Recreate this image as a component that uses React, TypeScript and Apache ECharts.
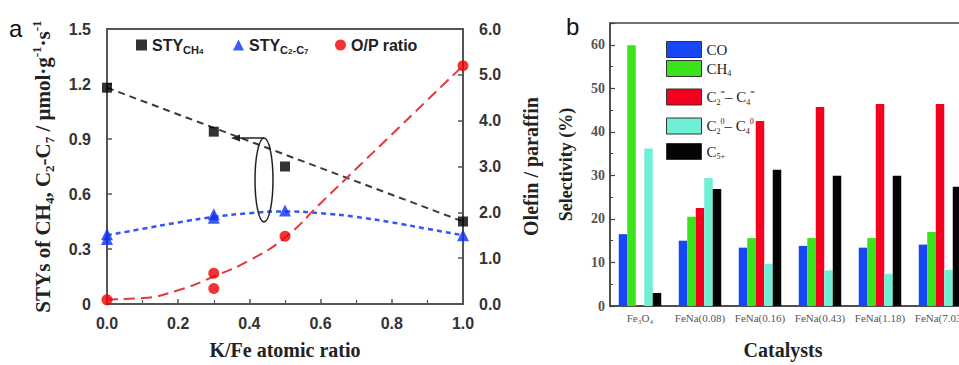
import React, { useEffect, useRef } from "react";
import * as echarts from "echarts";

// ---------- Panel a data ----------
const kFeTicks = [0, 0.2, 0.4, 0.6, 0.8, 1.0];
const ch4Pts: [number, number][] = [[0, 1.18], [0.3, 0.94], [0.5, 0.75], [1.0, 0.45]];
const c2c7Pts: [number, number][] = [[0, 0.38], [0, 0.355], [0.3, 0.47], [0.3, 0.49], [0.5, 0.51], [1.0, 0.375]];
const opPts: [number, number][] = [[0, 0.09], [0.3, 0.67], [0.3, 0.34], [0.5, 1.48], [1.0, 5.2]];
// dashed fit curves
const ch4FitX = [0, 1.0];
const ch4Fit = [1.18, 0.45];
const fitX = [0, 0.1, 0.2, 0.3, 0.4, 0.5, 0.6, 0.7, 0.8, 0.9, 1.0];
const c2c7Fit = [0.375, 0.41, 0.445, 0.475, 0.495, 0.505, 0.495, 0.475, 0.445, 0.41, 0.375];
const opFit = [0.1, 0.13, 0.3, 0.6, 0.95, 1.45, 2.2, 2.95, 3.7, 4.45, 5.2];

// ---------- Panel b data ----------
const catalysts = ["Fe₃O₄", "FeNa(0.08)", "FeNa(0.16)", "FeNa(0.43)", "FeNa(1.18)", "FeNa(7.03)"];
const coSel = [16.5, 15.0, 13.4, 13.8, 13.4, 14.1];
const ch4Sel = [59.9, 20.5, 15.6, 15.6, 15.6, 17.0];
const olefinSel = [0, 22.5, 42.5, 45.7, 46.4, 46.4];
const paraffinSel = [36.2, 29.4, 9.7, 8.2, 7.4, 8.3];
const c5Sel = [3.0, 26.9, 31.3, 29.9, 29.9, 27.4];

const SANS = "Liberation Sans, Arial, sans-serif";
const SERIF = "Liberation Serif, Times New Roman, serif";

const zip = (xs: number[], ys: number[]) => xs.map((x, i) => [x, ys[i]]);

export default function App() {
  const ref = useRef<HTMLDivElement>(null);
  useEffect(() => {
    if (!ref.current) return;
    const chart = echarts.init(ref.current, undefined, { renderer: "svg" });

    const richA = {
      t: { fontFamily: SANS, fontWeight: "bold", fontSize: 16, color: "#222", lineHeight: 20, verticalAlign: "middle" },
      s: { fontFamily: SANS, fontWeight: "bold", fontSize: 11, color: "#222", lineHeight: 20, verticalAlign: "bottom" },
      ss: { fontFamily: SANS, fontWeight: "bold", fontSize: 8, color: "#222", lineHeight: 16, verticalAlign: "bottom" },
    };
    const richB = {
      t: { fontFamily: SERIF, fontSize: 15, color: "#222", lineHeight: 18, verticalAlign: "middle" },
      sub: { fontFamily: SERIF, fontSize: 8, color: "#222", lineHeight: 18, verticalAlign: "bottom" },
      sup: { fontFamily: SERIF, fontSize: 8, color: "#222", lineHeight: 18, verticalAlign: "top" },
    };
    const legA = (name: string, icon: string, left: number, label: string) => ({
      data: [{ name, icon }],
      left,
      top: 37,
      itemWidth: 11,
      itemHeight: 11,
      padding: 0,
      formatter: () => label,
      textStyle: { rich: richA },
    });
    const legB = (name: string, top: number, label: string) => ({
      data: [{ name, icon: "rect" }],
      left: 666,
      top,
      orient: "vertical",
      itemWidth: 35,
      itemHeight: 16,
      padding: 0,
      itemStyle: { borderColor: "#333", borderWidth: 1 },
      formatter: () => label,
      textStyle: { rich: richB },
    });

    const axisNameA = { fontFamily: SERIF, fontWeight: "bold", fontSize: 20, color: "#222" };
    const tickLabA = { fontFamily: SANS, fontWeight: "bold", fontSize: 16, color: "#333" };

    chart.setOption({
      animation: false,
      backgroundColor: "#ffffff",
      grid: [
        { left: 107, top: 29, width: 356, height: 279, show: true, borderColor: "#555", borderWidth: 2 },
        { left: 610, top: 23, width: 360, height: 290, show: true, borderColor: "#444", borderWidth: 1.5 },
      ],
      legend: [
        legA("STY_CH4", "rect", 136, "{t|STY}{s|CH}{ss|4}"),
        legA("STY_C2C7", "triangle", 233, "{t|STY}{s|C}{ss|2}{s|-C}{ss|7}"),
        legA("O/P ratio", "circle", 335, "{t|O/P ratio}"),
        legB("CO", 41, "{t|CO}"),
        legB("CH4", 60, "{t|CH}{sub|4}"),
        legB("C2=-C4=", 88, "{t|C}{sub|2}{sup|=}{t|– C}{sub|4}{sup|=}"),
        legB("C2o-C4o", 117, "{t|C}{sub|2}{sup|0}{t|– C}{sub|4}{sup|0}"),
        legB("C5+", 143, "{t|C}{sub|5+}"),
      ],
      xAxis: [
        {
          type: "value",
          gridIndex: 0,
          min: 0,
          max: 1,
          interval: 0.2,
          axisLine: { lineStyle: { color: "#555", width: 2 } },
          axisTick: { inside: true, length: 5, lineStyle: { color: "#555", width: 1.5 } },
          minorTick: { show: true, splitNumber: 2, length: 4, lineStyle: { color: "#555", width: 1.2 } },
          splitLine: { show: false },
          minorSplitLine: { show: false },
          axisLabel: { ...tickLabA, margin: 11, formatter: (v: number) => v.toFixed(1) },
          name: "K/Fe atomic ratio",
          nameLocation: "middle",
          nameGap: 36,
          nameTextStyle: axisNameA,
        },
        {
          type: "category",
          gridIndex: 1,
          data: catalysts,
          axisTick: { show: false },
          axisLine: { lineStyle: { color: "#444", width: 1.5 } },
          axisLabel: { interval: 0, fontFamily: SERIF, fontSize: 11, color: "#555", margin: 6 },
          name: "Catalysts",
          nameLocation: "middle",
          nameGap: 34,
          nameTextStyle: { ...axisNameA, padding: [0, 14, 0, 0] },
        },
      ],
      yAxis: [
        {
          type: "value",
          gridIndex: 0,
          min: 0,
          max: 1.5,
          interval: 0.3,
          axisLine: { show: true, lineStyle: { color: "#555", width: 2 } },
          axisTick: { show: true, inside: true, length: 5, lineStyle: { color: "#555", width: 1.5 } },
          splitLine: { show: false },
          axisLabel: { ...tickLabA, margin: 16, formatter: (v: number) => (v === 0 ? "0" : v.toFixed(1)) },
          name: "STYs of CH{sub|4}, C{sub|2}-C{sub|7} / μmol·g{sup|-1}·s{sup|-1}",
          nameLocation: "middle",
          nameRotate: 90,
          nameGap: 51,
          nameTextStyle: {
            ...axisNameA,
            fontSize: 21,
            rich: {
              sub: { fontFamily: SERIF, fontWeight: "bold", fontSize: 13, color: "#222", verticalAlign: "bottom", lineHeight: 26 },
              sup: { fontFamily: SERIF, fontWeight: "bold", fontSize: 13, color: "#222", verticalAlign: "top", lineHeight: 26 },
            },
          },
        },
        {
          type: "value",
          gridIndex: 0,
          position: "right",
          min: 0,
          max: 6,
          interval: 1,
          axisLine: { show: true, lineStyle: { color: "#555", width: 2 } },
          axisTick: { show: true, inside: true, length: 5, lineStyle: { color: "#555", width: 1.5 } },
          splitLine: { show: false },
          axisLabel: { ...tickLabA, margin: 16, formatter: (v: number) => v.toFixed(1) },
          name: "Olefin / paraffin",
          nameLocation: "middle",
          nameRotate: 90,
          nameGap: 58,
          nameTextStyle: axisNameA,
        },
        {
          type: "value",
          gridIndex: 1,
          min: 0,
          max: 65,
          interval: 10,
          axisLine: { show: true, lineStyle: { color: "#444", width: 1.5 } },
          axisTick: { show: true, inside: true, length: 5, lineStyle: { color: "#444", width: 1.2 } },
          minorTick: { show: true, splitNumber: 2, length: 3, lineStyle: { color: "#444", width: 1 } },
          splitLine: { show: false },
          minorSplitLine: { show: false },
          axisLabel: { showMaxLabel: false, fontFamily: SERIF, fontWeight: "bold", fontSize: 14, color: "#555", margin: 5 },
          name: "Selectivity (%)",
          nameLocation: "middle",
          nameRotate: 90,
          nameGap: 35,
          nameTextStyle: { ...axisNameA, fontSize: 18 },
        },
      ],
      series: [
        {
          type: "line",
          xAxisIndex: 0,
          yAxisIndex: 0,
          data: zip(ch4FitX, ch4Fit),
          showSymbol: false,
          symbol: "none",
          lineStyle: { color: "#3a3a3a", width: 2, type: [7, 5] },
          silent: true,
          z: 2,
        },
        {
          type: "line",
          xAxisIndex: 0,
          yAxisIndex: 0,
          data: zip(fitX, c2c7Fit),
          smooth: true,
          symbol: "none",
          lineStyle: { color: "#3355ff", width: 2.5, type: [5, 4] },
          silent: true,
          z: 2,
        },
        {
          type: "line",
          xAxisIndex: 0,
          yAxisIndex: 1,
          data: zip(fitX, opFit),
          smooth: true,
          symbol: "none",
          lineStyle: { color: "#e23a3a", width: 2, type: [11, 6] },
          silent: true,
          z: 2,
        },
        {
          name: "STY_CH4",
          type: "scatter",
          xAxisIndex: 0,
          yAxisIndex: 0,
          data: ch4Pts,
          symbol: "rect",
          symbolSize: 10,
          itemStyle: { color: "#000" },
          z: 5,
        },
        {
          name: "STY_C2C7",
          type: "scatter",
          xAxisIndex: 0,
          yAxisIndex: 0,
          data: c2c7Pts,
          symbol: "triangle",
          symbolSize: 12,
          itemStyle: { color: "#1030f0" },
          z: 5,
        },
        {
          name: "O/P ratio",
          type: "scatter",
          xAxisIndex: 0,
          yAxisIndex: 1,
          data: opPts,
          symbol: "circle",
          symbolSize: 11,
          itemStyle: { color: "#f00000" },
          z: 5,
        },
        ...[
          { name: "CO", data: coSel, color: "#1746f5" },
          { name: "CH4", data: ch4Sel, color: "#3ae31c" },
          { name: "C2=-C4=", data: olefinSel, color: "#f5001e" },
          { name: "C2o-C4o", data: paraffinSel, color: "#6ff0d6" },
          { name: "C5+", data: c5Sel, color: "#050505" },
        ].map((s) => ({
          name: s.name,
          type: "bar",
          xAxisIndex: 1,
          yAxisIndex: 2,
          data: s.data,
          barWidth: 8.5,
          barGap: "0%",
          itemStyle: { color: s.color },
        })),
      ],
      graphic: [
        { type: "text", left: 9, top: 16, style: { text: "a", font: "24px " + SANS, fill: "#111" } },
        { type: "text", left: 566, top: 14, style: { text: "b", font: "24px " + SANS, fill: "#111" } },
        {
          type: "ellipse",
          shape: { cx: 264, cy: 180, rx: 9, ry: 42 },
          style: { fill: "none", stroke: "#222", lineWidth: 1.5 },
          z: 10,
        },
        {
          type: "line",
          shape: { x1: 238, y1: 138, x2: 264, y2: 138 },
          style: { stroke: "#222", lineWidth: 1.5 },
          z: 10,
        },
        {
          type: "polygon",
          shape: { points: [[231, 138], [240, 134.5], [240, 141.5]] },
          style: { fill: "#222" },
          z: 10,
        },
      ],
    });
    return () => chart.dispose();
  }, []);
  return (
    <div
      style={{ position: "absolute", left: 0, top: 0, width: 959, height: 365, overflow: "hidden", background: "#fff" }}
    >
      <div ref={ref} style={{ position: "absolute", left: 0, top: 0, width: 990, height: 365 }} />
    </div>
  );
}
